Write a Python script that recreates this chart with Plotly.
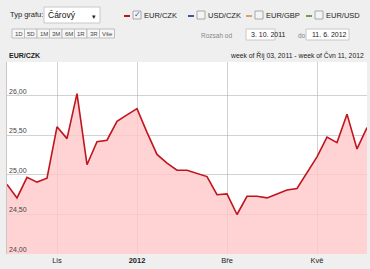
import plotly.graph_objects as go
import pandas as pd

weeks = pd.date_range("2011-10-03", periods=37, freq="7D")
eur_czk = [24.88, 24.71, 24.97, 24.91, 24.96, 25.61, 25.46, 26.03, 25.13, 25.42,
           25.44, 25.68, 25.76, 25.84, 25.54, 25.26, 25.15, 25.06, 25.06, 25.02,
           24.98, 24.75, 24.76, 24.50, 24.73, 24.73, 24.71, 24.76, 24.81, 24.83,
           25.03, 25.23, 25.48, 25.41, 25.77, 25.33, 25.60]
y_ticks = [24.0, 24.5, 25.0, 25.5, 26.0]
x_tick_dates = ["2011-11-07", "2012-01-02", "2012-03-05", "2012-05-07"]
x_tick_labels = ["Lis", "<b>2012</b>", "Bře", "Kvě"]
range_buttons = ["1D", "5D", "1M", "3M", "6M", "1R", "3R", "Vše"]
legend_items = [("EUR/CZK", "#c0141e", True), ("USD/CZK", "#3a5a9a", False),
                ("EUR/GBP", "#e0a060", False), ("EUR/USD", "#70a040", False)]

W, H = 370, 269
L, R, T, B = 7, 3, 62, 15
PW, PH = W - L - R, H - T - B
FONT = "Liberation Sans"


def px(x):
    return (x - L) / PW


def py(y):
    return (H - B - y) / PH


fig = go.Figure()
fig.add_trace(go.Scatter(x=weeks, y=eur_czk, mode="lines",
                         line=dict(color="#c0141e", width=1.6),
                         fill="tozeroy", fillcolor="rgba(255,200,200,0.8)",
                         hoverinfo="skip"))

shapes = []
ann = []

def box(x0, y0, x1, y1, fill="white", line="#c8c8c8"):
    shapes.append(dict(type="rect", xref="paper", yref="paper",
                       x0=px(x0), x1=px(x1), y0=py(y1), y1=py(y0),
                       fillcolor=fill, line=dict(color=line, width=1), layer="above"))

def text(x, y, s, size=7.5, color="#222", anchor="left", bold=False):
    ann.append(dict(xref="paper", yref="paper", x=px(x), y=py(y), text=f"<b>{s}</b>" if bold else s,
                    showarrow=False, xanchor=anchor, yanchor="middle",
                    xshift=-1 if anchor == "left" else 0,
                    font=dict(family=FONT, size=size, color=color)))

# header
text(9, 15, "Typ grafu:", size=7.5, color="#222")
box(44, 7, 100, 23)
text(47, 15, "Čárový", size=8.5, color="#111")
text(94, 16, "▾", size=7, color="#222", anchor="center")

lx = [124, 188, 246, 306]
for (name, col, checked), x in zip(legend_items, lx):
    shapes.append(dict(type="line", xref="paper", yref="paper", x0=px(x), x1=px(x + 6),
                       y0=py(16), y1=py(16), line=dict(color=col, width=2)))
    box(x + 9, 11, x + 17, 19, fill="#f4f4f4", line="#a8a8a8")
    if checked:
        text(x + 13, 14.5, "✓", size=8, color="#3355aa", anchor="center")
    text(x + 19, 15.5, name, size=7.5, color="#222")

bx = 12
for b in range_buttons:
    w = 12.5 if b != "Vše" else 15
    box(bx, 29, bx + w, 38, fill="#f7f7f7", line="#bdbdbd")
    text(bx + w / 2 + 0.5, 33.5, b, size=6, color="#444", anchor="center")
    bx += w

text(200, 35, "Rozsah od", size=6.5, color="#888")
box(246, 29, 275, 40)
text(250, 34.5, "3. 10. 2011", size=7, color="#222")
text(297, 35, "do", size=6.5, color="#888")
box(306, 29, 349, 40)
text(311, 34.5, "11. 6. 2012", size=7, color="#222")

text(8, 55, "EUR/CZK", size=7, color="#222", bold=True)
text(366, 55, "week of Říj 03, 2011 - week of Čvn 11, 2012", size=6.8, color="#222", anchor="right")

fig.update_layout(
    width=W, height=H, margin=dict(l=L, r=R, t=T, b=B),
    paper_bgcolor="#efefef", plot_bgcolor="white",
    showlegend=False, separators=", ",
    shapes=shapes, annotations=ann,
    xaxis=dict(range=[weeks[0], weeks[-1]], tickvals=x_tick_dates, ticktext=x_tick_labels,
               showgrid=True, gridcolor="rgba(180,180,180,0.6)", gridwidth=1, ticks="", zeroline=False,
               tickfont=dict(family=FONT, size=7.5, color="#222"), showline=False, layer="above traces"),
    yaxis=dict(range=[24.0, 26.43], tickvals=y_ticks, tickformat=".2f",
               ticklabelposition="inside top", showgrid=True, gridcolor="rgba(180,180,180,0.6)", gridwidth=1,
               zeroline=False, ticks="", showline=True, linecolor="#c8c8c8",
               tickfont=dict(family=FONT, size=7, color="#444"), layer="above traces"),
)

fig.write_html("out.html")
